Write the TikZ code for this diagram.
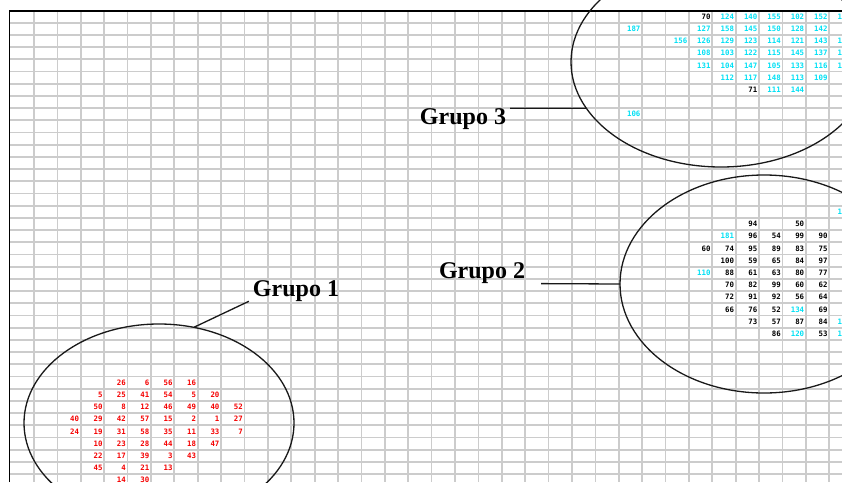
\documentclass[tikz,border=0pt]{standalone}
\usepackage{fontspec}
\setmainfont{Liberation Serif}
\newfontfamily\numfont{DejaVu Sans Mono}
\usetikzlibrary{shapes.geometric}
\definecolor{gridgray}{RGB}{204,204,204}
\definecolor{numcyan}{RGB}{0,225,245}
\definecolor{numred}{RGB}{245,0,0}
\tikzset{
	gridline/.style={draw=gridgray, line width=1.7pt},
	cellnum/.style={anchor=east, inner sep=0pt, font=\numfont\bfseries\fontsize{7.4}{8}\selectfont},
	cluster/.style={draw=black!90, line width=1.3pt, ellipse, inner sep=0pt, outer sep=0pt},
	grupolabel/.style={anchor=base, inner xsep=4pt, inner ysep=0pt, font=\bfseries\fontsize{24}{28}\selectfont},
	leader/.style={draw=black!90, line width=1.3pt}
}
% colour, row, first column, values
\newcommand{\cellrow}[4]{%
	\foreach \v [count=\k from #3] in {#4}
		\node[cellnum, text=#1] (n-#2-\k) at ({10.6+23.39*(\k+1)-1.5}, {10.5+12.2*(#2+0.5)}) {\v};
}
\begin{document}
\begin{tikzpicture}[x=1pt, y=-1pt]
			\useasboundingbox (0,0) rectangle (842,482);
			\clip (0,0) rectangle (842,482);
			\fill[white] (0,0) rectangle (842,482);
			% grid
			\foreach \k in {1,...,35} \draw[gridline] ({10.6+23.39*\k},11) -- ({10.6+23.39*\k},482);
			\foreach \r in {1,...,38} \draw[gridline] (10,{10.5+12.2*\r}) -- (842,{10.5+12.2*\r});
			\draw[black, line width=1.6pt] (9.6,482) -- (9.6,10.8) -- (842,10.8);
			% group 1
			\cellrow{numred}{30}{4}{26,6,56,16}
			\cellrow{numred}{31}{3}{5,25,41,54,5,20}
			\cellrow{numred}{32}{3}{50,8,12,46,49,40,52}
			\cellrow{numred}{33}{2}{40,29,42,57,15,2,1,27}
			\cellrow{numred}{34}{2}{24,19,31,58,35,11,33,7}
			\cellrow{numred}{35}{3}{10,23,28,44,18,47}
			\cellrow{numred}{36}{3}{22,17,39,3,43}
			\cellrow{numred}{37}{3}{45,4,21,13}
			\cellrow{numred}{38}{4}{14,30}
			% group 3
			\cellrow{black}{0}{29}{70}
			\cellrow{numcyan}{0}{30}{124,140,155,102,152,151}
			\cellrow{numcyan}{1}{26}{187}
			\cellrow{numcyan}{1}{29}{127,158,145,150,128,142}
			\cellrow{numcyan}{2}{28}{156,126,129,123,114,121,143,146}
			\cellrow{numcyan}{3}{29}{108,103,122,115,145,137,139}
			\cellrow{numcyan}{4}{29}{131,104,147,105,133,116,141}
			\cellrow{numcyan}{5}{30}{112,117,148,113,109}
			\cellrow{black}{6}{31}{71}
			\cellrow{numcyan}{6}{32}{111,144}
			\cellrow{numcyan}{8}{26}{106}
			% group 2
			\cellrow{numcyan}{16}{35}{135}
			\cellrow{black}{17}{31}{94}
			\cellrow{black}{17}{33}{50}
			\cellrow{numcyan}{18}{30}{181}
			\cellrow{black}{18}{31}{96,54,99,90}
			\cellrow{black}{19}{29}{60,74,95,89,83,75,51}
			\cellrow{black}{20}{30}{100,59,65,84,97,55}
			\cellrow{numcyan}{21}{29}{110}
			\cellrow{black}{21}{30}{88,61,63,80,77,58}
			\cellrow{black}{22}{30}{70,82,99,60,62,68}
			\cellrow{black}{23}{30}{72,91,92,56,64,28}
			\cellrow{black}{24}{30}{66,76,52}
			\cellrow{numcyan}{24}{33}{134}
			\cellrow{black}{24}{34}{69,67}
			\cellrow{black}{25}{31}{73,57,87,84}
			\cellrow{numcyan}{25}{35}{125}
			\cellrow{black}{26}{32}{86}
			\cellrow{numcyan}{26}{33}{120}
			\cellrow{black}{26}{34}{53}
			\cellrow{numcyan}{26}{35}{119}
			% clusters and labels
			\node[cluster, minimum width=270pt, minimum height=198pt] (cl1) at (159,423) {};
			\node[cluster, minimum width=288pt, minimum height=218pt] (cl2) at (764,284) {};
			\node[cluster, minimum width=300pt, minimum height=210pt] (cl3) at (721,62) {};
			\node[grupolabel] (grupo1) at (296,296) {Grupo 1};
			\node[grupolabel] (grupo2) at (482,278.3) {Grupo 2};
			\node[grupolabel] (grupo3) at (463,124.3) {Grupo 3};
			\draw[leader] (grupo1.south west) -- (cl1.70.5);
			\draw[leader] ([xshift=12pt]grupo2.south east) -- (cl2.west);
			\draw[leader] (grupo3.north east) -- (cl3.199);
		\end{tikzpicture}
\end{document}
